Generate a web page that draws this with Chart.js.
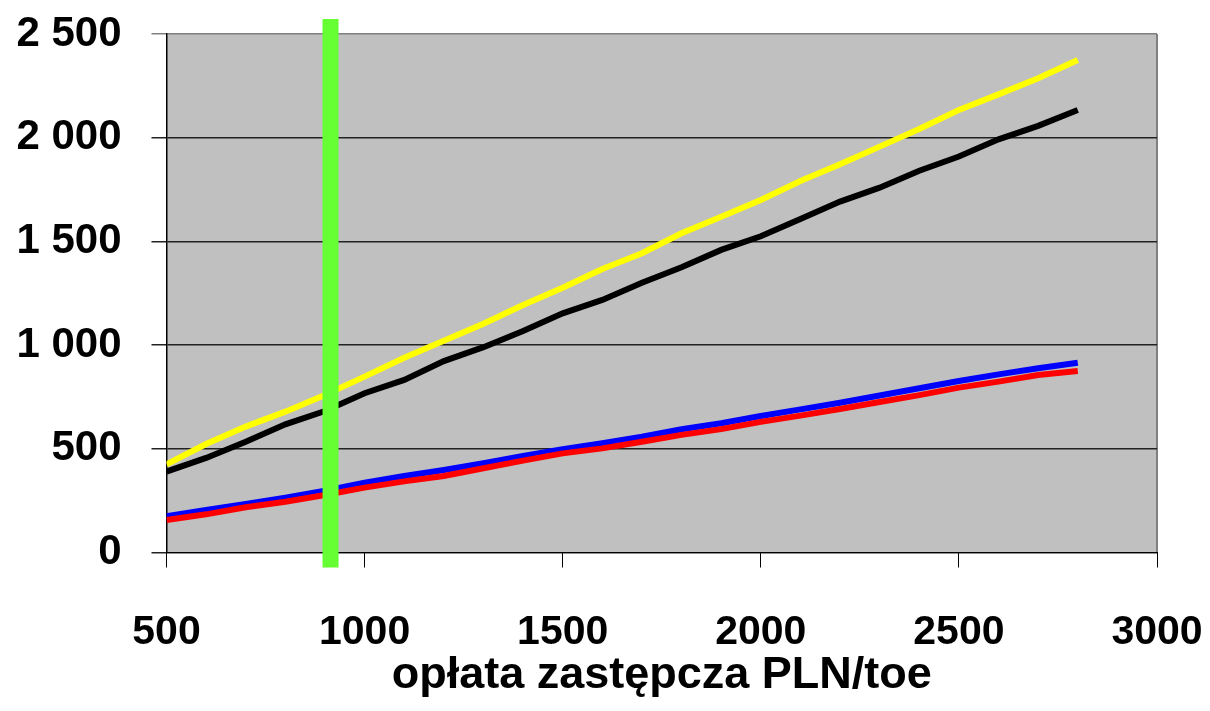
<!DOCTYPE html>
<html>
<head>
<meta charset="utf-8">
<script src="https://cdn.jsdelivr.net/npm/chart.js@4/dist/chart.umd.min.js"></script>
<style>
  html, body { margin: 0; padding: 0; background: #fff; }
  #wrap { width: 1210px; height: 711px; }
</style>
</head>
<body>
<div id="wrap"><canvas id="myChart" width="1210" height="711"></canvas></div>
<script>
const xValues = [500, 600, 700, 800, 900, 1000, 1100, 1200, 1300, 1400, 1500, 1600,
  1700, 1800, 1900, 2000, 2100, 2200, 2300, 2400, 2500, 2600, 2700, 2800];
const yellowSeries = [425, 523, 607, 679, 759, 848, 939, 1021, 1103, 1193, 1277, 1367,
  1443, 1539, 1619, 1700, 1791, 1872, 1957, 2042, 2134, 2209, 2287, 2375];
const blackSeries = [390, 456, 534, 618, 682, 768, 832, 923, 990, 1068, 1153, 1218,
  1301, 1375, 1459, 1525, 1608, 1692, 1759, 1841, 1909, 1992, 2057, 2134];
const blueSeries = [175, 205, 234, 264, 298, 337, 369, 398, 430, 465, 498, 527,
  558, 594, 623, 658, 690, 722, 757, 792, 827, 859, 888, 915];
const redSeries = [157, 184, 218, 245, 277, 313, 343, 369, 406, 443, 478, 502,
  534, 567, 595, 630, 660, 692, 726, 759, 795, 824, 856, 875];
const markerX = 914;
const xTicks = [500, 1000, 1500, 2000, 2500, 3000];
const yTicks = [0, 500, 1000, 1500, 2000, 2500];
const xTitle = "opłata zastępcza PLN/toe";

const toPoints = function (series) {
  return series.map(function (v, i) { return { x: xValues[i], y: v }; });
};

const plotBackground = {
  id: "plotBackground",
  beforeDraw: function (chart) {
    const a = chart.chartArea;
    const ctx = chart.ctx;
    ctx.save();
    ctx.fillStyle = "#c0c0c0";
    ctx.fillRect(a.left, a.top, a.right - a.left, a.bottom - a.top);
    ctx.strokeStyle = "#808080";
    ctx.lineWidth = 2;
    ctx.beginPath();
    ctx.moveTo(a.right, a.top);
    ctx.lineTo(a.right, a.bottom);
    ctx.stroke();
    ctx.restore();
  }
};

const markerLine = {
  id: "markerLine",
  afterDatasetsDraw: function (chart) {
    const a = chart.chartArea;
    const x = chart.scales.x.getPixelForValue(markerX);
    const ctx = chart.ctx;
    ctx.save();
    ctx.fillStyle = "#66ff33";
    ctx.fillRect(x - 8, a.top - 15, 16, a.bottom - a.top + 30);
    ctx.restore();
  }
};

const lineSet = function (data, color) {
  return {
    data: toPoints(data),
    borderColor: color,
    backgroundColor: color,
    borderWidth: 6,
    pointRadius: 0,
    tension: 0,
    fill: false,
    borderCapStyle: "butt"
  };
};

const fontFamily = "'Liberation Sans', Arial, sans-serif";

new Chart(document.getElementById("myChart").getContext("2d"), {
  type: "line",
  data: {
    datasets: [
      lineSet(redSeries, "#ff0000"),
      lineSet(blueSeries, "#0000ff"),
      lineSet(blackSeries, "#000000"),
      lineSet(yellowSeries, "#ffff00")
    ]
  },
  options: {
    responsive: false,
    animation: false,
    layout: { padding: { top: 34, right: 53, left: 0, bottom: 0 } },
    plugins: {
      legend: { display: false },
      tooltip: { enabled: false }
    },
    scales: {
      x: {
        type: "linear",
        min: 500,
        max: 3000,
        afterBuildTicks: function (scale) {
          scale.ticks = xTicks.map(function (v) { return { value: v }; });
        },
        afterFit: function (scale) {
          scale.height = 158.5;
          scale.paddingLeft = 0;
          scale.paddingRight = 0;
        },
        grid: {
          drawOnChartArea: false,
          drawTicks: true,
          tickLength: 15,
          color: "#000000"
        },
        border: { display: true, color: "#000000", width: 1 },
        ticks: {
          color: "#000000",
          padding: 41,
          maxRotation: 0,
          autoSkip: false,
          font: { family: fontFamily, size: 41, weight: "bold", lineHeight: 1.2 },
          callback: function (value) { return String(value); }
        },
        title: {
          display: true,
          text: xTitle,
          color: "#000000",
          padding: { top: 0, bottom: 8 },
          font: { family: fontFamily, size: 45, weight: "bold", lineHeight: 1.2 }
        }
      },
      y: {
        min: 0,
        max: 2500,
        afterBuildTicks: function (scale) {
          scale.ticks = yTicks.map(function (v) { return { value: v }; });
        },
        afterFit: function (scale) {
          scale.width = 166.5;
          scale.paddingTop = 0;
          scale.paddingBottom = 0;
        },
        grid: {
          drawOnChartArea: true,
          drawTicks: true,
          tickLength: 15,
          lineWidth: 1.5,
          color: function (c) {
            return c.tick && c.tick.value === 2500 ? "#808080" : "#222222";
          }
        },
        border: { display: true, color: "#000000", width: 1.5 },
        ticks: {
          color: "#000000",
          padding: 30,
          font: { family: fontFamily, size: 42, weight: "bold", lineHeight: 1.2 },
          callback: function (value) {
            return String(value).replace(/\B(?=(\d{3})+(?!\d))/g, " ");
          }
        }
      }
    }
  },
  plugins: [plotBackground, markerLine]
});
</script>
</body>
</html>
